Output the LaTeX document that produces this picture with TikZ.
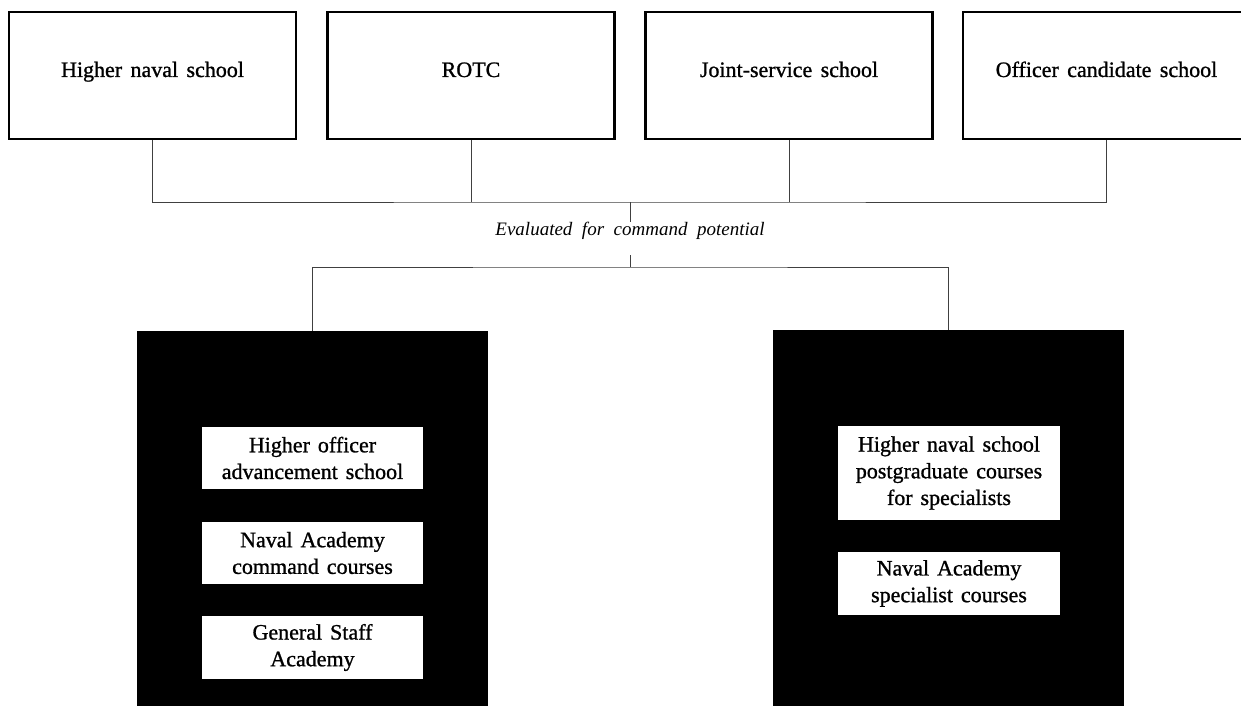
\documentclass[tikz,border=0pt]{standalone}
\usepackage{fontspec}
\setmainfont{Liberation Serif}
\newfontfamily\heavyserif[FakeBold=1]{Liberation Serif}
\newcommand\topboxfont{\heavyserif\fontsize{22}{26}\selectfont\spaceskip 0.38em plus 0.1em minus 0.05em\relax}
\newcommand\inboxfont{\heavyserif\fontsize{22}{26.7}\selectfont\spaceskip 0.36em plus 0.1em minus 0.05em\relax}
\newcommand\evfont{\fontsize{19}{22}\selectfont\itshape\spaceskip 0.5em plus 0.1em minus 0.05em\relax}
\begin{document}
\begin{tikzpicture}[x=1pt,y=-1pt,
  topbox/.style={draw=black,line width=2.4pt,fill=white,minimum width=287pt,minimum height=127pt,inner sep=0pt,
    font=\topboxfont,text height=16.5pt,text depth=13.5pt},
  darkbox/.style={fill=black,draw=none,minimum width=351pt,minimum height=400pt,inner sep=0pt,anchor=north},
  inbox/.style={fill=white,draw=none,minimum width=221pt,inner sep=0pt,align=center,font=\inboxfont},
  conn/.style={draw=black!75,line width=0.9pt},
  evlabel/.style={font=\evfont,inner sep=0pt,text height=13pt,text depth=20pt,anchor=base}
]
\useasboundingbox (0,0) rectangle (1241,706);
\clip (0,0) rectangle (1241,706);
\fill[white] (0,0) rectangle (1241,706);
% top boxes
\node[topbox] (b1) at (152.5,75.5) {Higher naval school};
\node[topbox] (b2) at (471,75.5) {ROTC};
\node[topbox] (b3) at (789,75.5) {Joint-service school};
\node[topbox] (b4) at (1106.5,75.5) {Officer candidate school};
% junctions and label
\coordinate (j1) at (630,202);
\node[evlabel] (ev) at (630,235) {Evaluated for command potential};
\coordinate (j2) at (630,267);
% dark boxes
\node[darkbox] (lb) at (312.5,331) {};
\node[darkbox] (rb) at (948.5,330) {};
% inner boxes
\node[inbox,minimum height=62pt] (l1) at (312.5,458) {Higher officer\\advancement school};
\node[inbox,minimum height=62pt] (l2) at (312.5,553) {Naval Academy\\command courses};
\node[inbox,minimum height=63pt] (l3) at (312.5,647.5) {General Staff\\Academy};
\node[inbox,minimum height=94pt,minimum width=222pt] (r1) at (949,473) {Higher naval school\\postgraduate courses\\for specialists};
\node[inbox,minimum height=63pt,minimum width=222pt] (r2) at (949,583.5) {Naval Academy\\specialist courses};
% connectors
\draw[conn] (b1.south) |- (j1) -| (b4.south);
\draw[conn] (b2.south) -- (b2.south |- j1);
\draw[conn] (b3.south) -- (b3.south |- j1);
\draw[conn] (j1) -- (ev.north);
\draw[conn] (ev.south) -- (j2);
\draw[conn] (lb.north) |- (j2) -| (rb.north);
\end{tikzpicture}
\end{document}
